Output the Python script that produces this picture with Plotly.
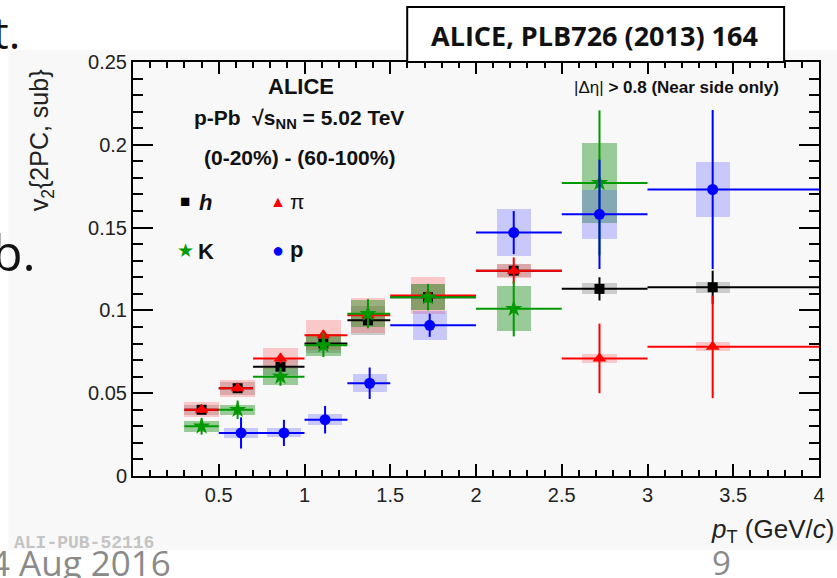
import plotly.graph_objects as go

# ---------------- data ----------------
pt_lo = [0.3, 0.5, 0.7, 1.0, 1.25, 1.5, 2.0, 2.5, 3.0]
pt_hi = [0.5, 0.7, 1.0, 1.25, 1.5, 2.0, 2.5, 3.0, 4.0]

h_pt = [0.40, 0.61, 0.86, 1.11, 1.37, 1.72, 2.22, 2.72, 3.38]
h_v = [0.040, 0.053, 0.066, 0.080, 0.094, 0.108, 0.124, 0.113, 0.114]
h_stat = [0.001, 0.001, 0.0015, 0.0015, 0.002, 0.002, 0.003, 0.007, 0.010]
h_sys = [0.003, 0.004, 0.005, 0.006, 0.0086, 0.008, 0.004, 0.0033, 0.0033]

pi_pt = [0.40, 0.61, 0.86, 1.11, 1.37, 1.72, 2.22, 2.72, 3.38]
pi_v = [0.040, 0.053, 0.071, 0.085, 0.097, 0.109, 0.124, 0.071, 0.078]
pi_stat = [0.002, 0.002, 0.003, 0.003, 0.003, 0.003, 0.008, 0.021, 0.031]
pi_sys = [0.0045, 0.0052, 0.0065, 0.009, 0.0105, 0.011, 0.0043, 0.0025, 0.0027]

k_pt = [0.40, 0.61, 0.86, 1.11, 1.37, 1.72, 2.22, 2.72]
k_v = [0.030, 0.040, 0.060, 0.079, 0.098, 0.108, 0.101, 0.177]
k_stat = [0.005, 0.0056, 0.0055, 0.0072, 0.0088, 0.008, 0.0167, 0.0438]
k_sys = [0.0035, 0.003, 0.005, 0.0068, 0.0083, 0.008, 0.0136, 0.024]

p_pt = [0.63, 0.88, 1.12, 1.38, 1.73, 2.22, 2.72, 3.38]
p_v = [0.026, 0.026, 0.034, 0.056, 0.091, 0.147, 0.158, 0.173]
p_stat = [0.0094, 0.0079, 0.0083, 0.0095, 0.007, 0.013, 0.033, 0.048]
p_sys = [0.003, 0.0027, 0.0033, 0.0055, 0.0089, 0.014, 0.015, 0.0165]

x_ticks = [0.5, 1, 1.5, 2, 2.5, 3, 3.5, 4]
x_tick_text = ["0.5", "1", "1.5", "2", "2.5", "3", "3.5", "4"]
y_ticks = [0, 0.05, 0.1, 0.15, 0.2, 0.25]
y_tick_text = ["0", "0.05", "0.1", "0.15", "0.2", "0.25"]

# ---------------- layout geometry (pixels) ----------------
W, H = 837, 578
L, R, T, B = 133, 821, 62, 476


def px(x):
    return (x - L) / (R - L)


def py(y):
    return (B - y) / (B - T)


series = [
    ("h", h_pt, h_v, h_stat, h_sys, 0, "#000000", "rgba(150,150,150,0.45)", "square", 10),
    ("pi", pi_pt, pi_v, pi_stat, pi_sys, 0, "#ff0000", "rgba(255,90,90,0.30)", "triangle-up", 12),
    ("K", k_pt, k_v, k_stat, k_sys, 0, "#009a00", "rgba(20,140,20,0.42)", "star", 13),
    ("p", p_pt, p_v, p_stat, p_sys, 1, "#0000ff", "rgba(90,90,255,0.30)", "circle", 11),
]

fig = go.Figure()

# systematic boxes
for name, xs, vs, st, sy, off, col, fill, sym, ms in series:
    fig.add_trace(go.Bar(
        x=xs, y=[2 * s for s in sy], base=[v - s for v, s in zip(vs, sy)],
        width=[0.2] * len(xs), marker=dict(color=fill, line=dict(width=0)),
        showlegend=False, hoverinfo="skip"))

# points with stat errors and bin widths
for name, xs, vs, st, sy, off, col, fill, sym, ms in series:
    lo = pt_lo[off:off + len(xs)]
    hi = pt_hi[off:off + len(xs)]
    fig.add_trace(go.Scatter(
        x=xs, y=vs, mode="markers",
        marker=dict(symbol=sym, size=ms, color=col, line=dict(width=0)),
        error_y=dict(type="data", array=st, symmetric=True, width=0, thickness=2, color=col),
        error_x=dict(type="data", array=[h - x for h, x in zip(hi, xs)],
                     arrayminus=[x - l for x, l in zip(xs, lo)], symmetric=False,
                     width=0, thickness=2, color=col),
        showlegend=False))

axis_common = dict(showline=True, linecolor="black", linewidth=2, mirror="allticks",
                   ticks="inside", tickcolor="black", tickwidth=2, showgrid=False,
                   zeroline=False, tickfont=dict(family="Liberation Sans", size=20, color="#222"))

fig.update_xaxes(range=[0, 4], tickvals=x_ticks, ticktext=x_tick_text, ticklen=12,
                 minor=dict(dtick=0.1, tick0=0, ticks="inside", ticklen=6, tickwidth=1.5,
                            tickcolor="black", showgrid=False),
                 **axis_common)
fig.update_yaxes(range=[0, 0.25], tickvals=y_ticks, ticktext=y_tick_text, ticklen=20,
                 minor=dict(dtick=0.01, tick0=0, ticks="inside", ticklen=10, tickwidth=1.5,
                            tickcolor="black", showgrid=False),
                 **axis_common)

shapes = [
    # gray figure background from the pasted ROOT image
    dict(type="rect", xref="paper", yref="paper", x0=px(8), x1=px(840), y0=py(550), y1=py(50),
         fillcolor="#f8f8f8", line=dict(width=0), layer="below"),
    # reference box
    dict(type="rect", xref="paper", yref="paper", x0=px(408), x1=px(786), y0=py(62), y1=py(7),
         fillcolor="white", line=dict(color="black", width=2), layer="above"),
]

HF = "Liberation Sans"
ann = []


def add(text, x, y, size, xanchor="center", yanchor="middle", color="#111", family=HF, angle=0):
    ann.append(dict(text=text, x=px(x), y=py(y), xref="paper", yref="paper", showarrow=False,
                    xanchor=xanchor, yanchor=yanchor, textangle=angle,
                    font=dict(family=family, size=size, color=color)))


add("<b>ALICE</b>", 301, 86, 22)
add("<b>p-Pb  √s<sub>NN</sub> = 5.02 TeV</b>", 299, 119, 21)
add("<b>(0-20%) - (60-100%)</b>", 300, 157, 21)
add("<b>■</b>", 185, 202, 17, color="#000")
add("<b><i>h</i></b>", 197, 203, 22, xanchor="left")
add("▲", 278, 201, 16, color="#ff0000")
add("π", 288, 201, 21, xanchor="left")
add("★", 186, 250, 19, color="#009a00")
add("<b>K</b>", 196, 251, 22, xanchor="left")
add("●", 278, 250, 20, color="#0000ff")
add("<b>p</b>", 288, 249, 22, xanchor="left")
add("|Δη| <b>> 0.8 (Near side only)</b>", 678, 88, 17)
add("v<sub>2</sub>{2PC, sub}", 41, 140, 25, angle=-90, color="#222")
add("<i>p</i><sub>T</sub> (GeV/<i>c</i>)", 838, 530, 26, xanchor="right", color="#222")
add("<b>ALI-PUB-52116</b>", 12, 543, 18, xanchor="left", color="#c4c4c4", family="Liberation Mono")
add("<b>ALICE, PLB726 (2013) 164</b>", 596, 36, 27, family="Open Sans", color="#111")
# slide text around the pasted image
add("t.", 22, 32, 44, xanchor="right", color="#111", family="Open Sans")
add("b.", 38, 252, 50, xanchor="right", color="#111", family="Open Sans")
add("04 Aug 2016", 173, 562, 35, xanchor="right", color="#8a8a8a", family="Open Sans")
add("9", 723, 562, 33, color="#8a8a8a", family="Open Sans")

fig.update_layout(
    width=W, height=H, margin=dict(l=L, r=W - R, t=T, b=H - B),
    paper_bgcolor="white", plot_bgcolor="rgba(0,0,0,0)",
    barmode="overlay", bargap=0, showlegend=False,
    shapes=shapes, annotations=ann,
)

fig.write_html("out.html", config={"displayModeBar": False},
               post_script="document.body.style.margin='0px';document.body.style.overflow='hidden';")
